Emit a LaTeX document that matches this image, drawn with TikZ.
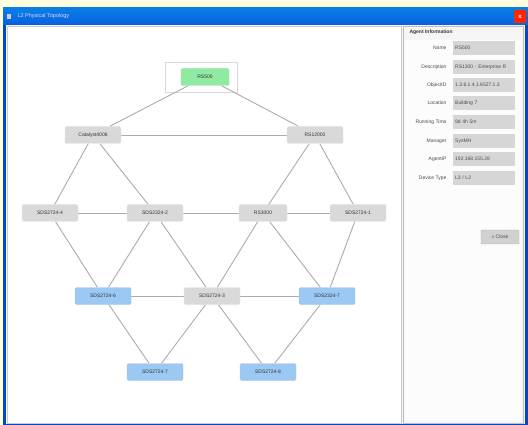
\documentclass[tikz,border=0pt]{standalone}
\usepackage{fontspec}
\setmainfont{Liberation Sans}
\pgfdeclarelayer{front}
\pgfsetlayers{main,front}
\definecolor{devgray}{HTML}{D9D9D9}
\definecolor{devsky}{HTML}{9CC8F4}
\definecolor{devmint}{HTML}{8FEBA2}
\definecolor{xpblue}{HTML}{0A5FE0}
\definecolor{xpbluedark}{HTML}{0048C8}
\begin{document}
\begin{tikzpicture}[x=1pt,y=-1pt,
  every node/.style={font=\fontsize{5}{6}\selectfont},
  dev/.style={draw=black!10, fill=devgray, rounded corners=1.5pt, minimum width=56pt, minimum height=17pt, inner sep=1pt, text=black!80},
  devblue/.style={dev, fill=devsky, draw=devsky!80!black!60},
  devgreen/.style={dev, fill=devmint, draw=devmint!80!black!60, minimum width=48pt},
  link/.style={draw=black!33, line width=0.9pt},
  flabel/.style={anchor=east, text=black!70},
  fvalue/.style={anchor=west, fill=black!16, text width=58pt, align=left, minimum height=14pt, inner sep=2pt, text=black!70}]
\useasboundingbox (0,0) rectangle (528,425);
% desktop and window frame
\fill[yellow!12] (0,0) rectangle (528,425);
\fill[xpbluedark] (3,8) rectangle (528,425);
\shade[top color=xpblue!80!cyan, bottom color=xpblue] (3,8) rectangle (528,25);
\node[anchor=west, text=white!85!blue, font=\fontsize{5.5}{6}\selectfont] (wtitle) at (14,16.5) {L2 Physical Topology};
\fill[white!80!blue] (7,14) rectangle (11,19);
\fill[red!70!orange, rounded corners=1pt] (514,10) rectangle (526,23);
\node[text=white, font=\fontsize{6}{6}\selectfont\bfseries] (wclose) at (520,16.5) {x};
% client area
\fill[black!5] (6,25) rectangle (525,424);
\fill[white] (7,26) rectangle (401,423);
\draw[black!20] (7,26) rectangle (401,423);
% information panel
\fill[black!4] (403,26) rectangle (523,423);
\draw[black!25] (403,26) rectangle (523,423);
\fill[white!70!black!4] (405,40) rectangle (521,421);
\node[anchor=west, font=\fontsize{5}{6}\selectfont\bfseries, text=black!80] (ptitle) at (406,32) {Agent Information};
\foreach \lab/\val/\yy [count=\i] in {Name/RS500/48,
    Description/RS1300 - Enterprise R/67,
    ObjectID/1.3.6.1.4.1.6527.1.3/85,
    Location/Building 7/103,
    Running Time/9d 4h 5m/122,
    Manager/SysMH/141,
    AgentIP/192.168.155.28/159,
    Device Type/{L3 / L2}/178}{
  \node[flabel] (lab\i) at (450,\yy) {\lab};
  \node[fvalue] (val\i) at (453,\yy) {\val};
}
\node[fill=black!18, draw=black!30, rounded corners=1pt, minimum width=38pt, minimum height=14pt, text=black!70] (closebtn) at (500,237) {\guillemotleft{} Close};
% selection frame around the chosen device
\draw[black!15, fill=white] (165,62) rectangle (237,92);
% devices
\begin{pgfonlayer}{front}
\node[devgreen] (rs500) at (205,77) {RS500};
\node[dev] (cat) at (93,135) {Catalyst4006};
\node[dev] (rs12) at (315,135) {RS12000};
\node[dev] (s4) at (50,213) {SDS2724-4};
\node[dev] (s2) at (155,213) {SDS2324-2};
\node[dev, minimum width=48pt] (rs3) at (263,213) {RS3000};
\node[dev] (s1) at (358,213) {SDS2724-1};
\node[devblue] (s6) at (103,296) {SDS2724-6};
\node[dev] (s3) at (212,296) {SDS2724-3};
\node[devblue] (s7b) at (327,296) {SDS2324-7};
\node[devblue] (s7) at (155,372) {SDS2724-7};
\node[devblue] (s8) at (268,372) {SDS2724-8};
\end{pgfonlayer}
% links
\draw[link] (rs500) -- (cat);
\draw[link] (rs500) -- (rs12);
\draw[link] (cat) -- (rs12);
\draw[link] (cat) -- (s4);
\draw[link] (cat) -- (s2);
\draw[link] (rs12) -- (rs3);
\draw[link] (rs12) -- (s1);
\draw[link] (s4) -- (s2);
\draw[link] (s2) -- (rs3);
\draw[link] (rs3) -- (s1);
\draw[link] (s4) -- (s6);
\draw[link] (s2) -- (s6);
\draw[link] (s2) -- (s3);
\draw[link] (rs3) -- (s3);
\draw[link] (rs3) -- (s7b);
\draw[link] (s1) -- (s7b);
\draw[link] (s6) -- (s3);
\draw[link] (s3) -- (s7b);
\draw[link] (s6) -- (s7);
\draw[link] (s3) -- (s7);
\draw[link] (s3) -- (s8);
\draw[link] (s7b) -- (s8);
\end{tikzpicture}
\end{document}
